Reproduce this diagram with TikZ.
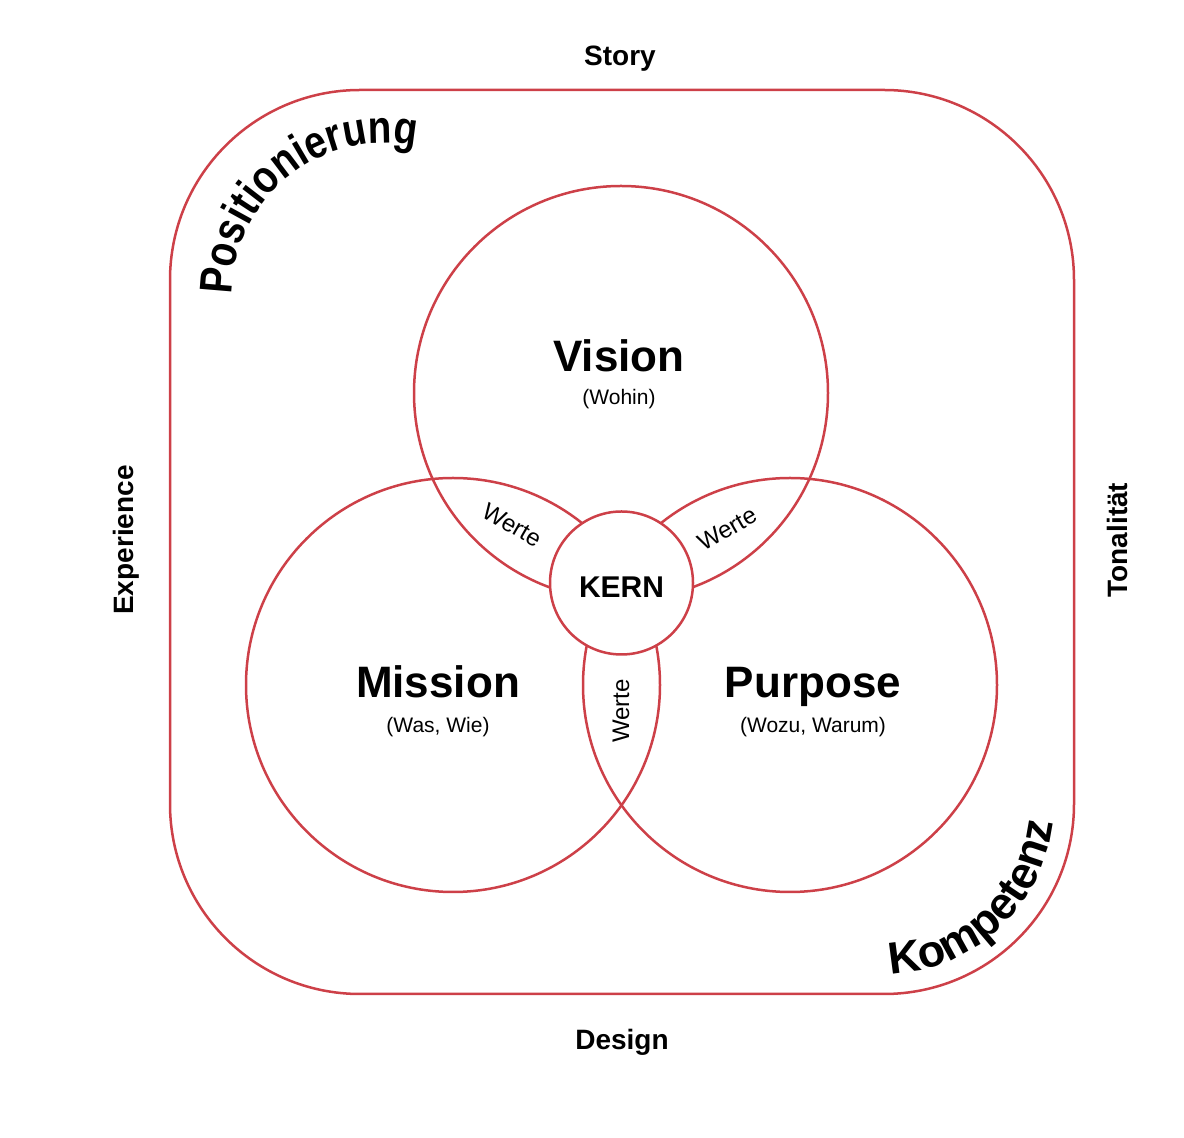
\documentclass[tikz,border=0pt]{standalone}
\usepackage{fontspec}
\setmainfont{Liberation Sans}
\newfontfamily\arcfont{Liberation Sans}[FakeStretch=0.84]
\usetikzlibrary{decorations.text}
\definecolor{brandred}{RGB}{205,64,72}
\begin{document}
\begin{tikzpicture}[x=1pt,y=1pt,
  ln/.style={draw=brandred, line width=2.5pt},
  ring/.style={circle, ln, inner sep=0pt, minimum size=#1},
  big/.style={font=\bfseries\fontsize{44}{52}\selectfont, inner sep=0pt, anchor=base},
  sub/.style={font=\fontsize{21}{25}\selectfont, inner sep=0pt, anchor=base},
  side/.style={font=\bfseries\fontsize{28}{34}\selectfont, inner sep=0pt, anchor=base},
  werte/.style={font=\fontsize{24}{28}\selectfont, inner sep=0pt},
  kernlbl/.style={font=\bfseries\fontsize{30}{36}\selectfont, inner sep=0pt, anchor=base},
]
\useasboundingbox (0,0) rectangle (1184,1138);
% frame
\node[ln, rounded corners=190pt, minimum width=904pt, minimum height=904pt, inner sep=0pt] (frame) at (622,596) {};
% circles
\node[ring=414pt] (vision) at (621,745) {};
\node[ring=414pt] (mission) at (453,453) {};
\node[ring=414pt] (purpose) at (790,453) {};
\node[ring=143pt, fill=white] (kern) at (621.5,555) {};
% labels
\node[big] (visionlbl) at (619,766) {Vision};
\node[sub] (wohin) at (619,733) {(Wohin)};
\node[big] (missionlbl) at (438,440) {Mission};
\node[sub] (waswie) at (438,405) {(Was, Wie)};
\node[big] (purposelbl) at (813,440) {Purpose};
\node[sub] (wozu) at (813,405) {(Wozu, Warum)};
\node[kernlbl] (kerntxt) at (621.5,540) {KERN};
\node[werte, rotate=-30] (werte1) at (512,613) {Werte};
\node[werte, rotate=30] (werte2) at (727,609) {Werte};
\node[werte, rotate=90] (werte3) at (621,427) {Werte};
% side labels
\node[side] (story) at (620,1072) {Story};
\node[side] (design) at (622,88) {Design};
\node[side, rotate=90] (experience) at (133,598) {Experience};
\node[side, rotate=90] (tonal) at (1127,598) {Tonalität};
% arc labels
\path[decorate, decoration={text along path, text align=left,
  text={|\arcfont\bfseries\fontsize{46}{54}\selectfont|Positionierung}}]
  (384,843) ++(180:152) arc[start angle=180, end angle=40, radius=152];
\path[decorate, decoration={text along path, text align=left,
  text={|\bfseries\fontsize{45}{52}\selectfont|Kompetenz}}]
  (884,334) ++(-88:170) arc[start angle=-88, end angle=20, radius=170];
\end{tikzpicture}
\end{document}
